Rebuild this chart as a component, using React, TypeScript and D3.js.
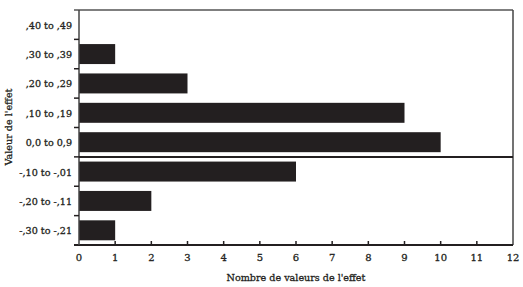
import React from "react";
import * as d3 from "d3";

const categories = [",40 to ,49", ",30 to ,39", ",20 to ,29", ",10 to ,19", "0,0 to 0,9", "-,10 to -,01", "-,20 to -,11", "-,30 to -,21"];
const values = [0, 1, 3, 9, 10, 6, 2, 1];
const xTicks = [0, 1, 2, 3, 4, 5, 6, 7, 8, 9, 10, 11, 12];
const xTitle = "Nombre de valeurs de l'effet";
const yTitle = "Valeur de l'effet";

export default function App() {
  const W = 523, H = 287;
  const left = 79, right = 513, top = 10, bottom = 245;
  const x = d3.scaleLinear().domain([0, 12]).range([left, right]);
  const y = d3.scaleBand().domain(categories).range([top, bottom]).paddingInner(0.32).paddingOuter(0.16);
  const step = y.step();
  const font = "'DejaVu Serif', serif";
  const ink = "#231f20";
  const divider = top + step * 5;
  const textStyle = { stroke: ink, strokeWidth: 0.3 };
  return (
    <svg width={W} height={H} style={{ position: "absolute", left: 0, top: 0 }} fontFamily={font}>
      {categories.map((c, i) => (
        <rect key={c} x={x(0)} y={y(c)!} width={x(values[i]) - x(0)} height={y.bandwidth()} fill={ink} />
      ))}
      <line x1={74} x2={right} y1={top} y2={top} stroke="#555" strokeWidth={1.5} />
      <line x1={right} x2={right} y1={top} y2={bottom} stroke="#444" strokeWidth={1.5} />
      <line x1={74} x2={right} y1={bottom} y2={bottom} stroke={ink} strokeWidth={2} />
      <line x1={left} x2={left} y1={top} y2={bottom} stroke="#444" strokeWidth={1.5} />
      <line x1={left} x2={right} y1={divider} y2={divider} stroke={ink} strokeWidth={2} />
      {categories.slice(1).map((c, i) => {
        const yy = top + step * (i + 1);
        return <line key={"t" + c} x1={74} x2={left} y1={yy} y2={yy} stroke={ink} strokeWidth={1.5} />;
      })}
      {xTicks.map((t) => (
        <g key={t}>
          {t > 0 && t < 12 && <line x1={x(t)} x2={x(t)} y1={bottom} y2={bottom - 4} stroke={ink} strokeWidth={1.5} />}
          <text x={x(t)} y={bottom + 16} fontSize={10} textAnchor="middle" fill={ink} style={textStyle}>{t}</text>
        </g>
      ))}
      {categories.map((c) => (
        <text key={"l" + c} x={72} y={y(c)! + y.bandwidth() / 2 + 4} fontSize={9.6} textAnchor="end" fill={ink} style={textStyle}>{c}</text>
      ))}
      <text x={(left + right) / 2} y={281} fontSize={9.6} textAnchor="middle" fill={ink} style={textStyle}>{xTitle}</text>
      <text transform={`translate(12,127) rotate(-90)`} fontSize={9.6} textAnchor="middle" fill={ink} style={textStyle}>{yTitle}</text>
    </svg>
  );
}
